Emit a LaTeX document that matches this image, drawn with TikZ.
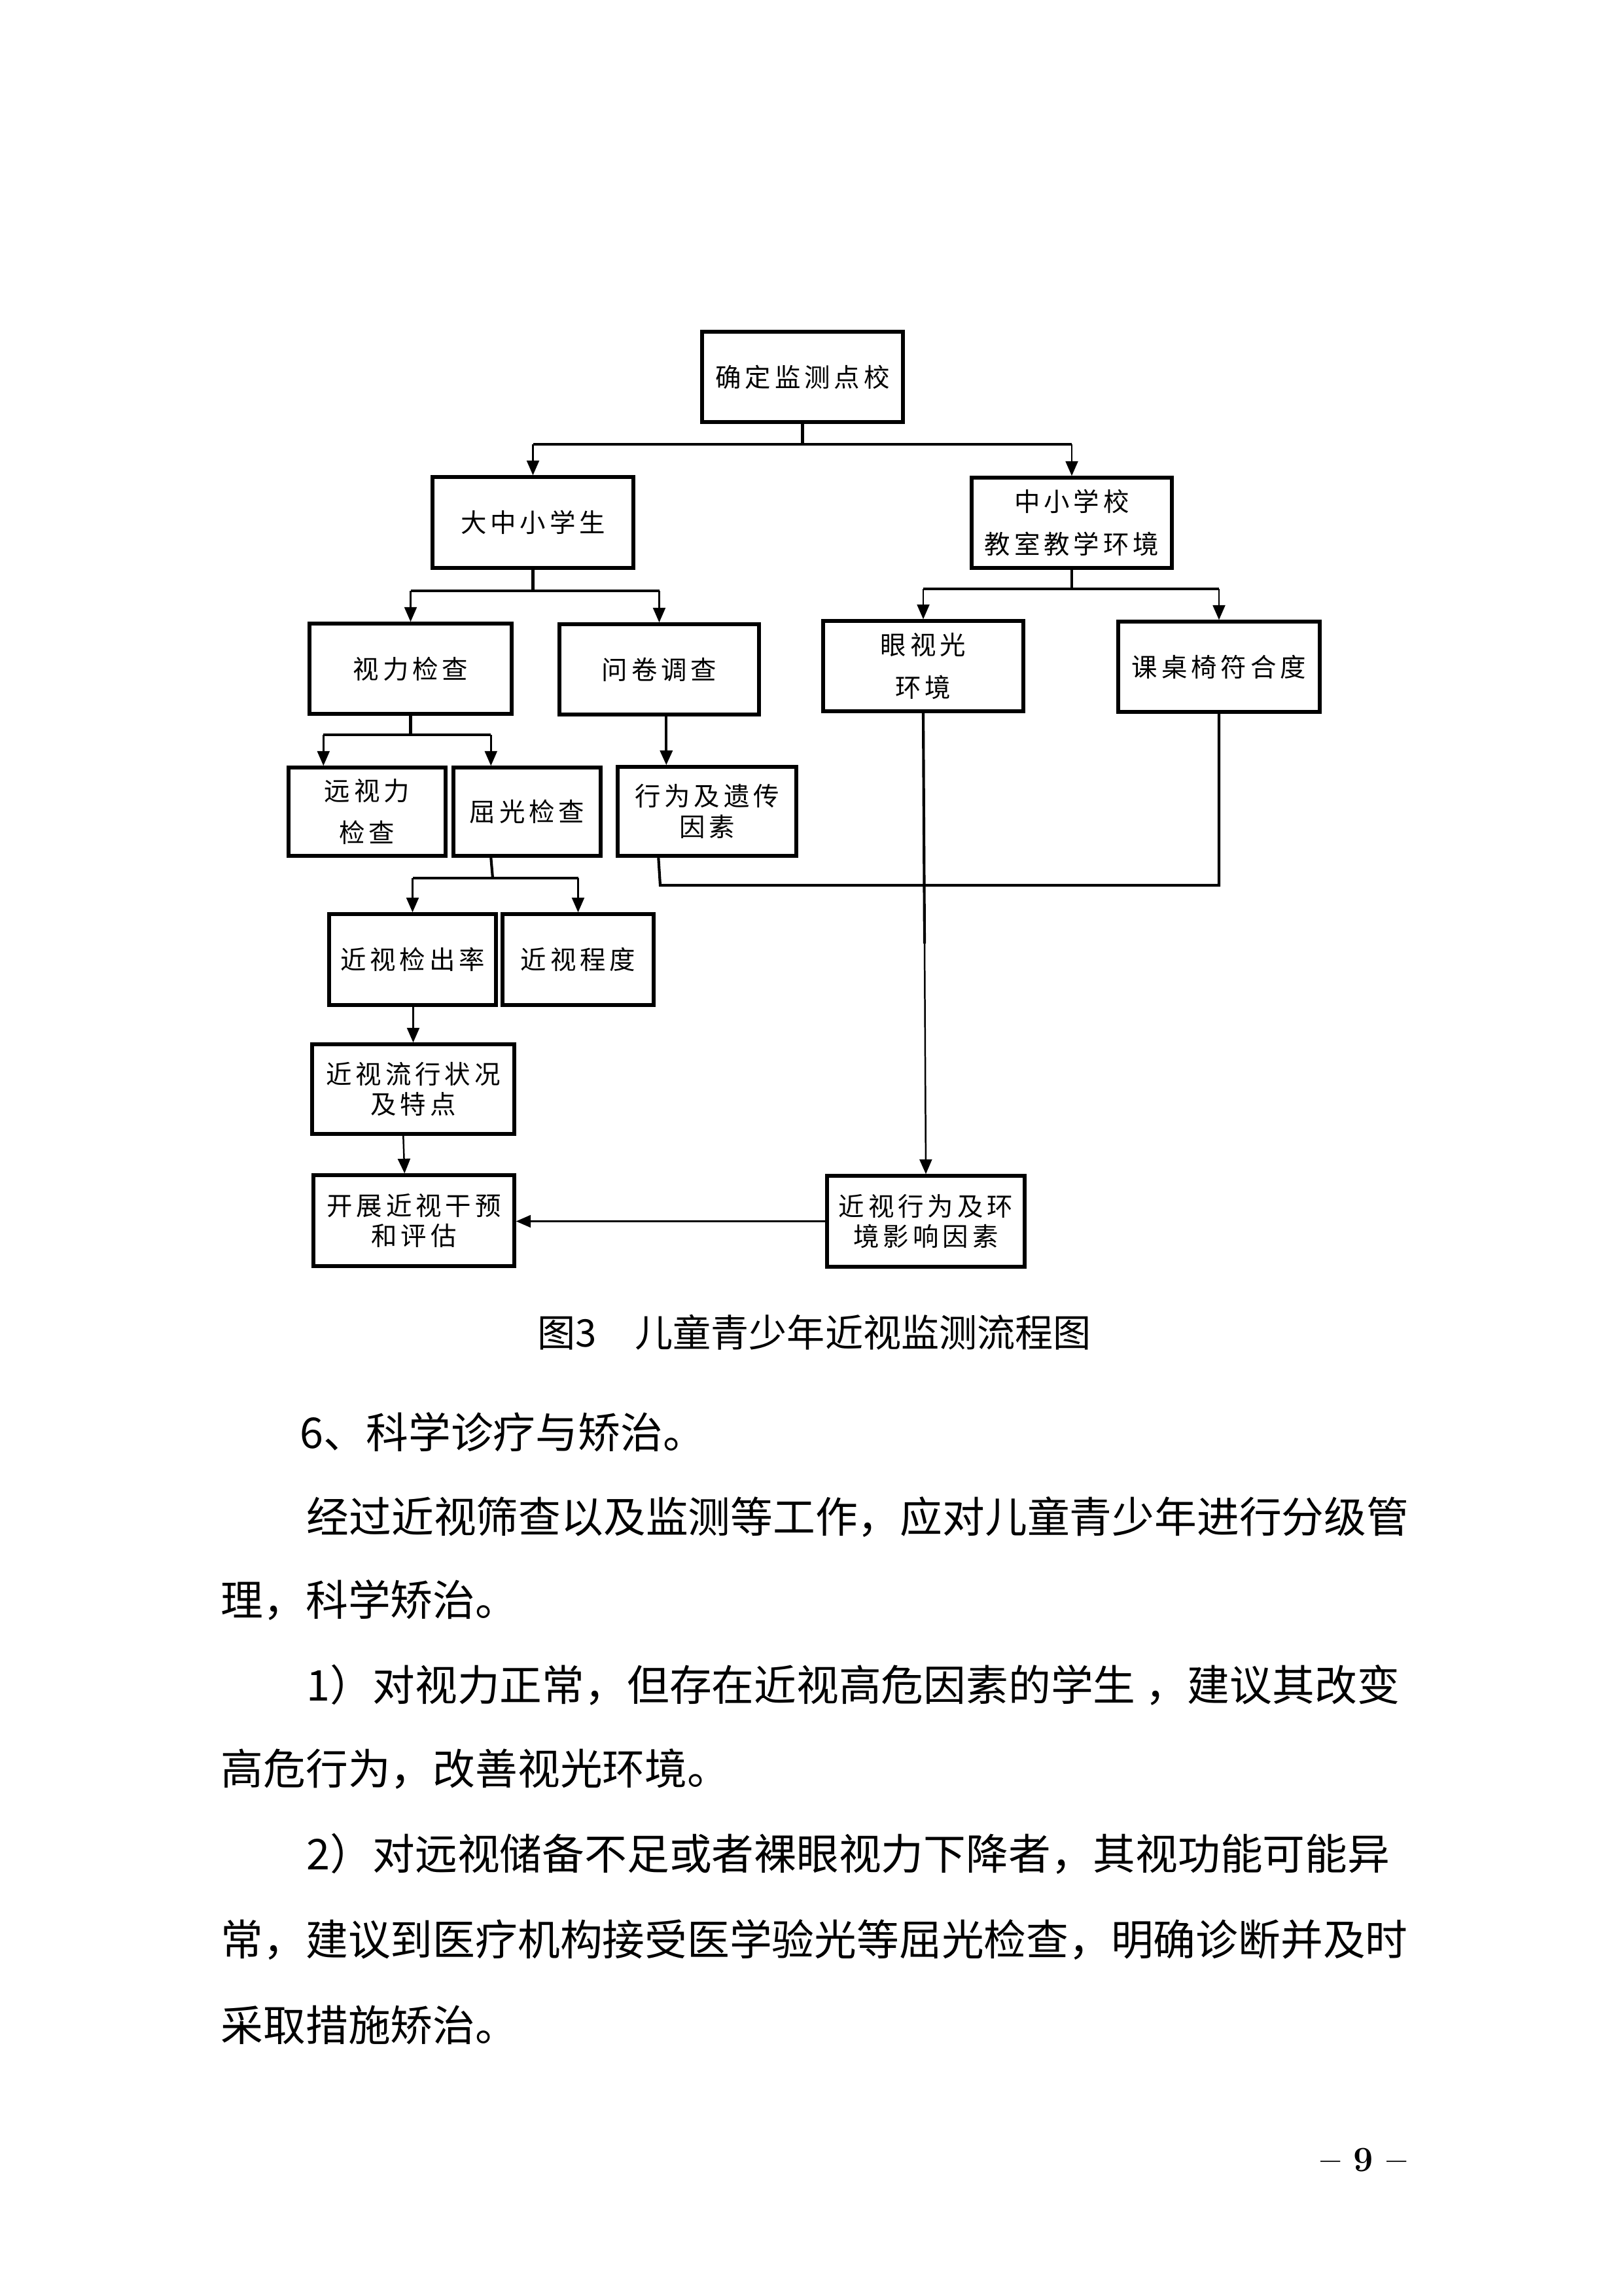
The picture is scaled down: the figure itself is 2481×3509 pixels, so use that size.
\documentclass[tikz,border=0pt]{standalone}
\usepackage{fontspec}
\newfontfamily\cjk{Noto Sans CJK SC}
\newfontfamily\dgf[LetterSpace=15]{Noto Sans CJK SC}
\usetikzlibrary{arrows.meta,calc}
\begin{document}
\begin{tikzpicture}[x=0.08464mm,y=-0.08464mm,
  box/.style={draw, line width=1.3pt, inner sep=0pt, align=center,
    font=\dgf\fontsize{9.5pt}{15.5pt}\selectfont},
  tight/.style={font=\dgf\fontsize{9.5pt}{11.2pt}\selectfont},
  wh/.style 2 args={minimum width=#1*0.08464mm, minimum height=#2*0.08464mm},
  bar/.style={line width=1pt},
  drop/.style={line width=0.6pt, -{Triangle[length=1.9mm,width=1.6mm]}},
  body/.style={anchor=base west, inner sep=0pt, font=\cjk\fontsize{15.6pt}{18pt}\selectfont}]
\fill[white] (0,0) rectangle (2481,3509);
\useasboundingbox (0,0) rectangle (2481,3509);

% boxes
\node[box, wh={307}{138}] (A) at (1226.5,576) {确定监测点校};
\node[box, wh={307}{139}] (B) at (814.5,798.5) {大中小学生};
\node[box, wh={306}{138}] (C) at (1638,799) {中小学校\\教室教学环境};
\node[box, wh={309}{138}] (D) at (627.5,1022) {视力检查};
\node[box, wh={305}{138}] (E) at (1007.5,1023) {问卷调查};
\node[box, wh={306}{138}] (F) at (1411,1018) {眼视光\\环境};
\node[box, wh={308}{138}] (G) at (1863,1019) {课桌椅符合度};
\node[box, wh={240}{135}] (H) at (561,1240.5) {远视力\\检查};
\node[box, wh={225}{135}] (I) at (805.5,1240.5) {屈光检查};
\node[box, tight, wh={273}{136}] (J) at (1080.5,1240) {行为及遗传\\因素};
\node[box, wh={255}{139}] (K) at (630.5,1466.5) {近视检出率};
\node[box, wh={231}{139}] (L) at (883.5,1466.5) {近视程度};
\node[box, tight, wh={309}{137}] (M) at (631.5,1664.5) {近视流行状况\\及特点};
\node[box, tight, wh={307}{139}] (N) at (632.5,1865.5) {开展近视干预\\和评估};
\node[box, tight, wh={302}{139}] (O) at (1415,1866.5) {近视行为及环\\境影响因素};

% junctions
\coordinate (jA) at (1226.5,679);
\coordinate (jB) at (814.5,903);
\coordinate (jC) at (1638,900);
\coordinate (jD) at (627.5,1123);
\coordinate (jI) at (753,1342);
\coordinate (jJ) at (1009,1353);
\coordinate (jG) at (1863,1353);

% connectors
\draw[bar] (A) -- (jA);
\draw[bar] (jA -| B.north) -- (jA -| C.north);
\draw[drop] (jA -| B.north) -- (B.north);
\draw[drop] (jA -| C.north) -- (C.north);

\draw[bar] (B) -- (jB);
\draw[bar] (jB -| D.north) -- (jB -| E.north);
\draw[drop] (jB -| D.north) -- (D.north);
\draw[drop] (jB -| E.north) -- (E.north);

\draw[bar] (C) -- (jC);
\draw[bar] (jC -| F.north) -- (jC -| G.north);
\draw[drop] (jC -| F.north) -- (F.north);
\draw[drop] (jC -| G.north) -- (G.north);

\draw[bar] (D) -- (jD);
\draw[bar] ($(jD -| H.north west)+(56,0)$) -- ($(jD -| I.north west)+(60,0)$);
\draw[drop] ($(jD -| H.north west)+(56,0)$) -- ($(H.north west)+(56,0)$);
\draw[drop] ($(jD -| I.north west)+(60,0)$) -- ($(I.north west)+(60,0)$);

\draw[bar, -{Triangle[length=1.9mm,width=1.6mm]}] ($(E.south west)+(166,0)$) -- ($(J.north west)+(77,0)$);

\draw[bar] ($(I.south west)+(60,0)$) -- (jI);
\draw[bar] (jI -| K.north) -- (jI -| L.north);
\draw[drop] (jI -| K.north) -- (K.north);
\draw[drop] (jI -| L.north) -- (L.north);

\draw[bar] ($(J.south west)+(65,0)$) -- (jJ) -- (jG) -- (G.south);
\draw[bar] (F.south) -- ($(F.south)!0.5!(O.north)$);
\draw[drop] ($(F.south)!0.5!(O.north)$) -- (O.north);

\draw[drop] (K.south -| M.north) -- (M.north);
\draw[drop] ($(M.south west)+(142,0)$) -- ($(N.north west)+(142,0)$);
\draw[drop] (O.west) -- (N.east |- O.west);

% caption
\node[anchor=base west, inner sep=0pt, font=\cjk\fontsize{14pt}{16pt}\selectfont] (cap) at (821,2058) {图3\hspace{1em}儿童青少年近视监测流程图};

% body text
\node[body] (t1) at (458,2213) {6、科学诊疗与矫治。};
\node[body] (t2) at (468,2342) {经过近视筛查以及监测等工作，应对儿童青少年进行分级管};
\node[body] (t3) at (337,2469) {理，科学矫治。};
\node[body] (t4) at (468,2599) {1）对视力正常，但存在近视高危因素的学生 ，建议其改变};
\node[body] (t5) at (337,2727) {高危行为，改善视光环境。};
\node[body] (t6) at (468,2857) {2）对远视储备不足或者裸眼视力下降者，其视功能可能异};
\node[body] (t7) at (337,2988) {常，建议到医疗机构接受医学验光等屈光检查，明确诊断并及时};
\node[body] (t8) at (337,3119) {采取措施矫治。};

% page number
\node[anchor=base, inner sep=0pt, font=\fontsize{13pt}{15pt}\selectfont\bfseries] (pg) at (2084,3318) {-- 9 --};
\end{tikzpicture}
\end{document}
